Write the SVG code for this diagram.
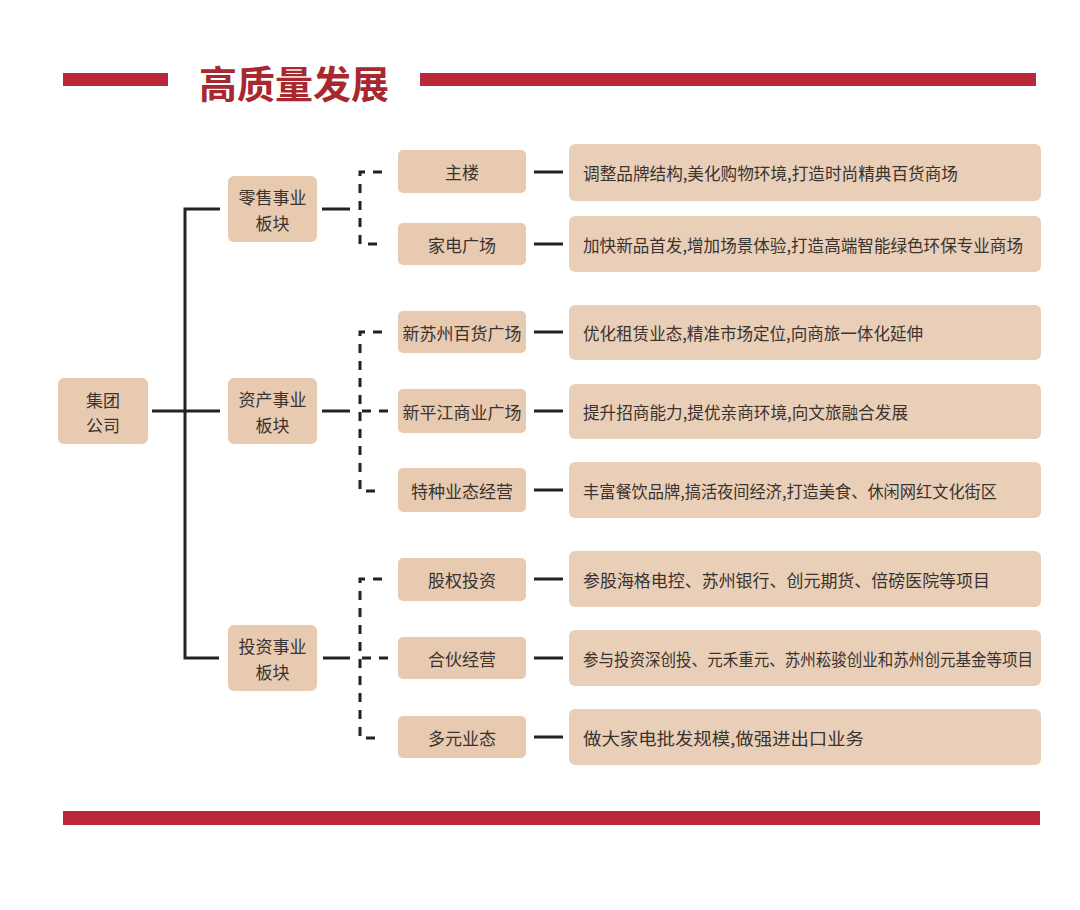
<svg xmlns="http://www.w3.org/2000/svg" width="1080" height="910" viewBox="0 0 1080 910">
<style>
.bar{fill:#b8283a}
.box{fill:#e8cab1}
.desc{fill:#eacfb8}
.t{font-family:"Noto Sans CJK SC","Noto Sans",sans-serif;font-size:17px;fill:#3a3330;text-anchor:middle;dominant-baseline:central}
.d{font-family:"Noto Sans CJK SC","Noto Sans",sans-serif;font-size:17px;fill:#3a3330;dominant-baseline:central}
.ln{stroke:#222;stroke-width:3;fill:none}
.dl{stroke:#222;stroke-width:3;fill:none;stroke-dasharray:9 8}
</style>
<rect width="1080" height="910" fill="#ffffff"/>
<g id="header">
<rect class="bar" x="63" y="73" width="105" height="13"/>
<rect class="bar" x="420" y="73" width="616" height="13"/>
<text x="294" y="81" font-family="Noto Sans CJK SC,sans-serif" font-size="38" font-weight="bold" fill="#a8282f" text-anchor="middle" dominant-baseline="central">高质量发展</text>
</g>
<g id="connectors">
<path class="ln" d="M152 411H220"/>
<path class="ln" d="M220 209H185V658H219"/>
<path class="ln" d="M322 209H350"/>
<path class="ln" d="M322 411H350"/>
<path class="ln" d="M323 658H350"/>
<path class="dl" d="M382 172H360V244H382"/>
<path class="dl" d="M382 332H360V491H382"/>
<path class="dl" d="M362 411H390"/>
<path class="dl" d="M382 579H360V738H382"/>
<path class="dl" d="M362 658H390"/>
<path class="ln" d="M534 172H563M534 244H563M534 332H563M534 411H563M534 490H563M534 579H563M534 658H563M534 737H563"/>
</g>
<g id="n-jituan"><rect class="box" x="58" y="378" width="90" height="66" rx="6"/><text class="t" x="103" y="399">集团</text><text class="t" x="103" y="424">公司</text></g>
<g id="n-lingshou"><rect class="box" x="228" y="176" width="89" height="66" rx="6"/><text class="t" x="272.5" y="196">零售事业</text><text class="t" x="272.5" y="222">板块</text></g>
<g id="n-zichan"><rect class="box" x="228" y="378" width="89" height="66" rx="6"/><text class="t" x="272.5" y="398">资产事业</text><text class="t" x="272.5" y="424">板块</text></g>
<g id="n-touzi"><rect class="box" x="228" y="625" width="89" height="66" rx="6"/><text class="t" x="272.5" y="645">投资事业</text><text class="t" x="272.5" y="671">板块</text></g>
<g id="n-zhulou"><rect class="box" x="398" y="150" width="128" height="43" rx="5"/><text class="t" x="462" y="171.5">主楼</text></g>
<g id="n-jiadian"><rect class="box" x="398" y="223" width="128" height="42" rx="5"/><text class="t" x="462" y="244">家电广场</text></g>
<g id="n-xinsuzhou"><rect class="box" x="398" y="311" width="128" height="42" rx="5"/><text class="t" x="462" y="332">新苏州百货广场</text></g>
<g id="n-xinpingjiang"><rect class="box" x="398" y="389" width="128" height="44" rx="5"/><text class="t" x="462" y="411">新平江商业广场</text></g>
<g id="n-tezhong"><rect class="box" x="398" y="468" width="128" height="44" rx="5"/><text class="t" x="462" y="490">特种业态经营</text></g>
<g id="n-guquan"><rect class="box" x="398" y="558" width="128" height="43" rx="5"/><text class="t" x="462" y="579.5">股权投资</text></g>
<g id="n-hehuo"><rect class="box" x="398" y="637" width="128" height="42" rx="5"/><text class="t" x="462" y="658">合伙经营</text></g>
<g id="n-duoyuan"><rect class="box" x="398" y="716" width="128" height="42" rx="5"/><text class="t" x="462" y="737">多元业态</text></g>
<g id="d1"><rect class="desc" x="569" y="144" width="472" height="57" rx="6"/><text class="d" x="583" y="172.5" textLength="375" lengthAdjust="spacingAndGlyphs">调整品牌结构,美化购物环境,打造时尚精典百货商场</text></g>
<g id="d2"><rect class="desc" x="569" y="216" width="472" height="56" rx="6"/><text class="d" x="583" y="244" textLength="440" lengthAdjust="spacingAndGlyphs">加快新品首发,增加场景体验,打造高端智能绿色环保专业商场</text></g>
<g id="d3"><rect class="desc" x="569" y="305" width="472" height="55" rx="6"/><text class="d" x="583" y="332.5" textLength="340" lengthAdjust="spacingAndGlyphs">优化租赁业态,精准市场定位,向商旅一体化延伸</text></g>
<g id="d4"><rect class="desc" x="569" y="384" width="472" height="55" rx="6"/><text class="d" x="583" y="411.5" textLength="325" lengthAdjust="spacingAndGlyphs">提升招商能力,提优亲商环境,向文旅融合发展</text></g>
<g id="d5"><rect class="desc" x="569" y="462" width="472" height="56" rx="6"/><text class="d" x="583" y="490" textLength="414" lengthAdjust="spacingAndGlyphs">丰富餐饮品牌,搞活夜间经济,打造美食、休闲网红文化街区</text></g>
<g id="d6"><rect class="desc" x="569" y="551" width="472" height="56" rx="6"/><text class="d" x="583" y="579" textLength="407" lengthAdjust="spacingAndGlyphs">参股海格电控、苏州银行、创元期货、倍磅医院等项目</text></g>
<g id="d7"><rect class="desc" x="569" y="630" width="472" height="56" rx="6"/><text class="d" x="583" y="658" textLength="450" lengthAdjust="spacingAndGlyphs">参与投资深创投、元禾重元、苏州菘骏创业和苏州创元基金等项目</text></g>
<g id="d8"><rect class="desc" x="569" y="709" width="472" height="56" rx="6"/><text class="d" x="583" y="737" textLength="281" lengthAdjust="spacingAndGlyphs">做大家电批发规模,做强进出口业务</text></g>
<g id="footer"><rect class="bar" x="63" y="811" width="977" height="14"/></g>
</svg>
